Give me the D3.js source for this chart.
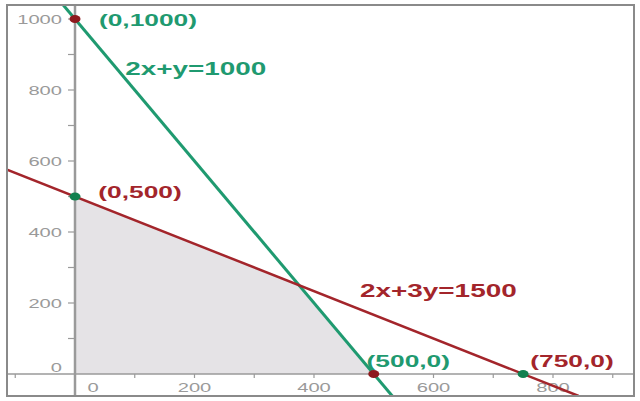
<!DOCTYPE html>
<html>
<head>
<meta charset="utf-8">
<script src="https://cdn.jsdelivr.net/npm/d3@7"></script>
<style>
  body { margin: 0; background: #fff; }
  text { font-family: "Liberation Sans", Arial, sans-serif; }
</style>
</head>
<body>
<script>
// constraint lines a*x + b*y = c
var lines = [
  { name: '2x+y=1000', a: 2, b: 1, c: 1000, color: '#1f9a70' },
  { name: '2x+3y=1500', a: 2, b: 3, c: 1500, color: '#a3252b' }
]
// feasible region corners
var region = [[0, 0], [0, 500], [375, 250], [500, 0]]
// intercept points (fill colour belongs to the other line)
var points = [
  { x: 0, y: 1000, color: '#8e1a1e' },
  { x: 0, y: 500, color: '#12804f' },
  { x: 500, y: 0, color: '#8e1a1e' },
  { x: 750, y: 0, color: '#12804f' }
]
// annotations, anchored in data units
var labels = [
  { text: '(0,1000)', x: 40, y: 980, color: '#1f9a70' },
  { text: '2x+y=1000', x: 84, y: 842, color: '#1f9a70' },
  { text: '(0,500)', x: 39, y: 496, color: '#a3252b' },
  { text: '2x+3y=1500', x: 477, y: 217, color: '#a3252b' },
  { text: '(500,0)', x: 488, y: 20, color: '#1f9a70' },
  { text: '(750,0)', x: 762, y: 20, color: '#a3252b' }
]
var xTicks = [0, 200, 400, 600, 800]
var yTicks = [0, 200, 400, 600, 800, 1000]
var minorTicks = d3.range(-100, 1001, 100)

var width = 640,
    height = 401
var frame = { left: 7, top: 5, right: 634, bottom: 396 }
var sx = 1.55 // the picture is stretched sideways

var x = d3.scaleLinear().domain([0, 800]).range([75, 553])
var y = d3.scaleLinear().domain([0, 1000]).range([374, 19])
var xMin = x.invert(frame.left), xMax = x.invert(frame.right)
var yMin = y.invert(frame.bottom), yMax = y.invert(frame.top)

var svg = d3.select('body').append('svg')
    .attr('width', width)
    .attr('height', height)

svg.append('clipPath').attr('id', 'clip')
  .append('rect')
    .attr('x', frame.left).attr('y', frame.top)
    .attr('width', frame.right - frame.left)
    .attr('height', frame.bottom - frame.top)

// shaded feasible region
svg.append('path')
    .datum(region)
    .attr('d', d3.line().x(d => x(d[0])).y(d => y(d[1])))
    .attr('fill', '#e5e3e6')

// axes
var axes = svg.append('g').attr('stroke', '#9a9a9a')
axes.append('line')
    .attr('x1', frame.left).attr('x2', frame.right)
    .attr('y1', y(0)).attr('y2', y(0))
    .attr('stroke-width', 1.5)
axes.append('line')
    .attr('x1', x(0)).attr('x2', x(0))
    .attr('y1', frame.top).attr('y2', frame.bottom)
    .attr('stroke-width', 2.5)

// tick marks every 100
axes.selectAll('.yt')
  .data(minorTicks.filter(d => d > 0 && d < yMax))
  .enter().append('line')
    .attr('x1', x(0) - 7).attr('x2', x(0))
    .attr('y1', d => y(d)).attr('y2', d => y(d))
    .attr('stroke-width', 1.2)
axes.selectAll('.xt')
  .data(minorTicks.filter(d => d !== 0 && d < xMax))
  .enter().append('line')
    .attr('x1', d => x(d)).attr('x2', d => x(d))
    .attr('y1', y(0)).attr('y2', y(0) + 4)
    .attr('stroke-width', 1.2)

// tick labels (the zeros are nudged off the axes)
svg.selectAll('.ylab')
  .data(yTicks)
  .enter().append('text')
    .attr('transform', d => 'translate(' + (x(0) - 13) + ',' + (y(d) + (d === 0 ? -2 : 5)) + ') scale(' + sx + ',1)')
    .attr('text-anchor', 'end')
    .attr('font-size', 13)
    .attr('fill', '#9a9a9a')
    .text(d => d)
svg.selectAll('.xlab')
  .data(xTicks)
  .enter().append('text')
    .attr('transform', d => 'translate(' + (d === 0 ? x(0) + 18 : x(d)) + ',' + (y(0) + 18) + ') scale(' + sx + ',1)')
    .attr('text-anchor', 'middle')
    .attr('font-size', 13)
    .attr('fill', '#9a9a9a')
    .text(d => d)

// constraint lines, clipped to the frame
var plot = svg.append('g').attr('clip-path', 'url(#clip)')
plot.selectAll('.cl')
  .data(lines)
  .enter().append('line')
    .each(function (d) {
      // where the line enters and leaves the frame
      var xa = Math.max(xMin, (d.c - d.b * yMax) / d.a)
      var xb = Math.min(xMax, (d.c - d.b * yMin) / d.a)
      d3.select(this)
        .attr('x1', x(xa)).attr('y1', y((d.c - d.a * xa) / d.b))
        .attr('x2', x(xb)).attr('y2', y((d.c - d.a * xb) / d.b))
    })
    .attr('stroke', d => d.color)
    .attr('stroke-width', (d, i) => i === 0 ? 3 : 2.5)

// intercept points
svg.selectAll('.pt')
  .data(points)
  .enter().append('ellipse')
    .attr('cx', d => x(d.x))
    .attr('cy', d => y(d.y))
    .attr('rx', 5.5).attr('ry', 4)
    .attr('fill', d => d.color)

// labels (equations a touch bigger than the point labels)
svg.selectAll('.lab')
  .data(labels)
  .enter().append('text')
    .attr('transform', d => 'translate(' + x(d.x) + ',' + y(d.y) + ') scale(' + sx + ',1)')
    .attr('font-size', d => d.text.indexOf('=') >= 0 ? 18 : 17)
    .attr('font-weight', 'bold')
    .attr('fill', d => d.color)
    .text(d => d.text)

// outer frame
svg.append('rect')
    .attr('x', frame.left).attr('y', frame.top)
    .attr('width', frame.right - frame.left)
    .attr('height', frame.bottom - frame.top)
    .attr('fill', 'none')
    .attr('stroke', '#8a8a8a')
    .attr('stroke-width', 2)
</script>
</body>
</html>
